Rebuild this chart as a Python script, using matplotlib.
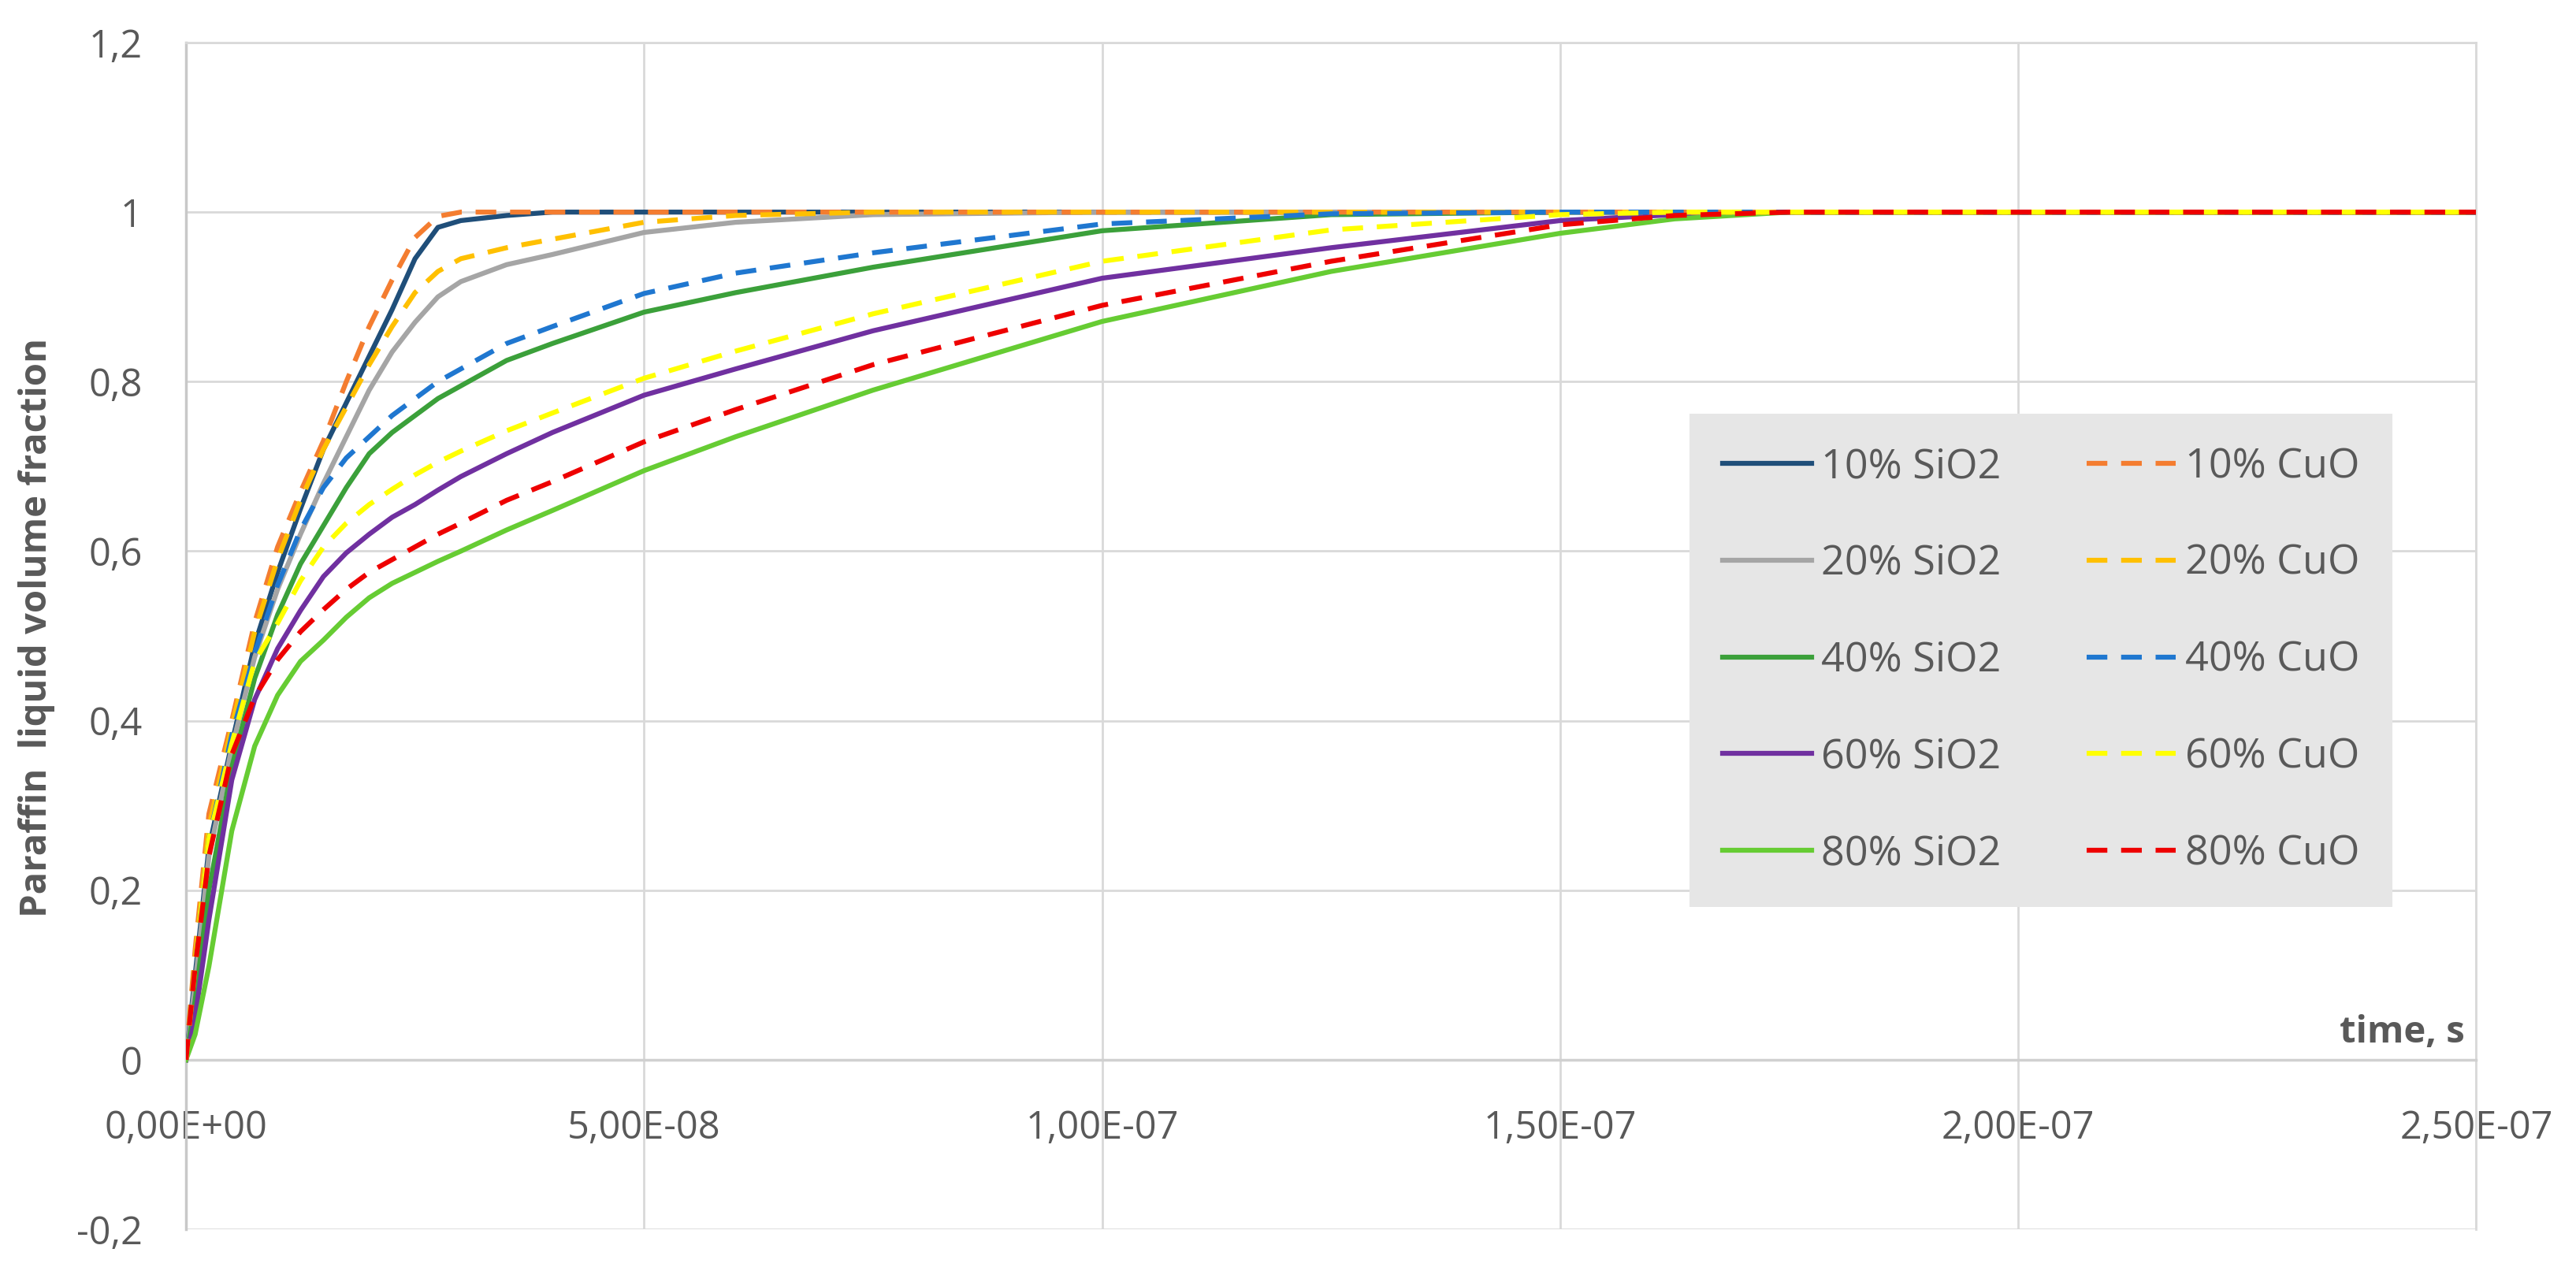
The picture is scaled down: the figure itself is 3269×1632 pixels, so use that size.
import numpy as np
import matplotlib
matplotlib.use("Agg")
import matplotlib.pyplot as plt
import matplotlib.transforms as mtransforms

# time points, in units of 1e-8 s
time_e8 = [0, 0.1, 0.25, 0.5, 0.75, 1, 1.25, 1.5, 1.75, 2, 2.25, 2.5, 2.75, 3, 3.5, 4,
           5, 6, 7.5, 10, 12.5, 15, 16.25, 17.5, 20, 25]

sio2_10 = [0, 0.1, 0.25, 0.373, 0.49, 0.575, 0.65, 0.72, 0.775, 0.83, 0.885, 0.945, 0.982, 0.99, 0.996, 1.0,
           1, 1, 1, 1, 1, 1, 1, 1, 1, 1]
sio2_20 = [0, 0.09, 0.24, 0.368, 0.475, 0.555, 0.62, 0.68, 0.735, 0.79, 0.835, 0.87, 0.90, 0.918, 0.938, 0.95,
           0.976, 0.988, 0.997, 1, 1, 1, 1, 1, 1, 1]
sio2_40 = [0, 0.07, 0.2, 0.345, 0.45, 0.525, 0.585, 0.63, 0.675, 0.715, 0.74, 0.76, 0.78, 0.795, 0.825, 0.845,
           0.882, 0.905, 0.935, 0.978, 0.997, 1, 1, 1, 1, 1]
sio2_60 = [0, 0.05, 0.165, 0.33, 0.425, 0.485, 0.53, 0.57, 0.598, 0.62, 0.64, 0.655, 0.672, 0.688, 0.715, 0.74,
           0.784, 0.815, 0.86, 0.922, 0.958, 0.99, 0.997, 1, 1, 1]
sio2_80 = [0, 0.03, 0.11, 0.27, 0.37, 0.43, 0.47, 0.495, 0.522, 0.545, 0.562, 0.575, 0.588, 0.60, 0.625, 0.648,
           0.695, 0.735, 0.79, 0.871, 0.93, 0.975, 0.992, 1.0, 1, 1]

cuo_10 = [0, 0.13, 0.29, 0.40, 0.516, 0.605, 0.67, 0.73, 0.80, 0.865, 0.92, 0.97, 0.995, 1.0, 1, 1,
          1, 1, 1, 1, 1, 1, 1, 1, 1, 1]
cuo_20 = [0, 0.12, 0.275, 0.393, 0.505, 0.59, 0.66, 0.72, 0.77, 0.82, 0.865, 0.905, 0.93, 0.945, 0.958, 0.968,
          0.988, 0.996, 1, 1, 1, 1, 1, 1, 1, 1]
cuo_40 = [0, 0.11, 0.26, 0.383, 0.48, 0.56, 0.625, 0.675, 0.71, 0.735, 0.76, 0.78, 0.80, 0.815, 0.845, 0.865,
          0.904, 0.928, 0.952, 0.986, 0.998, 1, 1, 1, 1, 1]
cuo_60 = [0, 0.11, 0.26, 0.373, 0.47, 0.515, 0.565, 0.605, 0.633, 0.655, 0.673, 0.69, 0.705, 0.718, 0.742, 0.763,
          0.804, 0.836, 0.88, 0.942, 0.979, 0.997, 1, 1, 1, 1]
cuo_80 = [0, 0.11, 0.24, 0.36, 0.428, 0.472, 0.505, 0.531, 0.555, 0.575, 0.59, 0.605, 0.62, 0.633, 0.66, 0.682,
          0.729, 0.767, 0.82, 0.89, 0.942, 0.985, 0.996, 1, 1, 1]

sio2_labels = ["10% SiO2", "20% SiO2", "40% SiO2", "60% SiO2", "80% SiO2"]
cuo_labels = ["10% CuO", "20% CuO", "40% CuO", "60% CuO", "80% CuO"]
sio2_colors = ["#1f4e79", "#a5a5a5", "#3ba03a", "#7030a0", "#66cc33"]
cuo_colors = ["#f47d30", "#ffc000", "#1f77d0", "#ffff00", "#ee0000"]

xticks = [0, 5e-8, 1e-7, 1.5e-7, 2e-7, 2.5e-7]
xtick_labels = ["0,00E+00", "5,00E-08", "1,00E-07", "1,50E-07", "2,00E-07", "2,50E-07"]
yticks = [-0.2, 0, 0.2, 0.4, 0.6, 0.8, 1, 1.2]
ytick_labels = ["-0,2", "0", "0,2", "0,4", "0,6", "0,8", "1", "1,2"]

plt.rcParams["font.family"] = ["Open Sans", "DejaVu Sans"]
txt = "#595959"
grid = "#d9d9d9"

fig = plt.figure(figsize=(32.69, 16.32), dpi=100)
ax = fig.add_axes([0.0722, 0.0441, 0.8891, 0.9228])

t = np.array(time_e8) * 1e-8
for ys, lab, c in zip([sio2_10, sio2_20, sio2_40, sio2_60, sio2_80], sio2_labels, sio2_colors):
    ax.plot(t, ys, color=c, lw=4.5, label=lab, zorder=3, solid_joinstyle="round")
for ys, lab, c in zip([cuo_10, cuo_20, cuo_40, cuo_60, cuo_80], cuo_labels, cuo_colors):
    ax.plot(t, ys, color=c, lw=4.5, ls=(0, (4.2, 2.8)), label=lab, zorder=4)

ax.set_xlim(0, 2.5e-7)
ax.set_ylim(-0.2, 1.2)
ax.set_xticks(xticks)
ax.set_xticklabels(xtick_labels)
ax.set_yticks(yticks)
ax.set_yticklabels(ytick_labels)
ax.grid(True, color=grid, lw=2, zorder=0)
ax.set_axisbelow(True)

ax.spines["bottom"].set_position(("data", 0))
ax.spines["bottom"].set_color("#d0d0d0")
ax.spines["bottom"].set_linewidth(2.5)
ax.spines["left"].set_color("#c8c8c8")
ax.spines["left"].set_linewidth(2.5)
for s in ["top", "right"]:
    ax.spines[s].set_color(grid)
    ax.spines[s].set_linewidth(2)

ax.tick_params(axis="both", length=0, labelsize=35, labelcolor=txt)
ax.tick_params(axis="x", pad=45)
ax.tick_params(axis="y", pad=40)

ax.set_ylabel("Paraffin  liquid volume fraction", fontsize=34, fontweight="bold", color=txt)
ax.yaxis.set_label_coords(-0.0571, 0.507)

trans = mtransforms.blended_transform_factory(ax.transAxes, ax.transData)
ax.text(0.995, 0.02, "time, s", transform=trans, ha="right", va="baseline",
        fontsize=34, fontweight="bold", color=txt)

leg = ax.legend(ncol=2, loc="upper left", bbox_to_anchor=(0.6566, 0.687),
                borderaxespad=0, fontsize=37.5, frameon=True, fancybox=False,
                facecolor="#e6e6e6", edgecolor="none", framealpha=1,
                handlelength=2.17, handletextpad=0.22, columnspacing=2.1,
                labelspacing=1.38, borderpad=0.8)
for tx in leg.get_texts():
    tx.set_color(txt)

fig.savefig("out.png", dpi=100, facecolor="white")
